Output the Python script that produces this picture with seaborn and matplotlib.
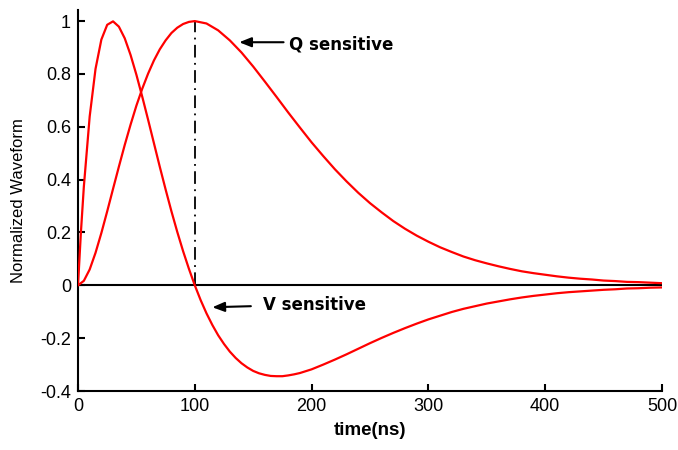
import matplotlib
matplotlib.use("Agg")
import matplotlib.pyplot as plt
import seaborn as sns
import pandas as pd

# ---- data ----
t_q = [0, 5, 10, 15, 20, 25, 30, 35, 40, 45, 50, 55, 60, 65, 70, 75, 80, 85, 90, 95,
       100, 110, 120, 130, 140, 150, 160, 170, 180, 190, 200, 210, 220, 230, 240, 250,
       260, 270, 280, 290, 300, 310, 320, 330, 340, 350, 360, 370, 380, 390, 400,
       410, 420, 430, 440, 450, 460, 470, 480, 490, 500]
q_sensitive = [0.0, 0.017, 0.060, 0.123, 0.198, 0.280, 0.365, 0.449, 0.531, 0.608,
               0.680, 0.744, 0.801, 0.851, 0.893, 0.927, 0.955, 0.975, 0.989, 0.997,
               1.0, 0.991, 0.965, 0.927, 0.881, 0.828, 0.771, 0.713, 0.654, 0.597,
               0.541, 0.489, 0.439, 0.393, 0.350, 0.311, 0.276, 0.243, 0.214, 0.188,
               0.165, 0.144, 0.126, 0.109, 0.095, 0.083, 0.072, 0.062, 0.053, 0.046,
               0.040, 0.034, 0.029, 0.025, 0.022, 0.018, 0.016, 0.013, 0.012, 0.010, 0.008]

t_v = [0, 2.5, 5, 10, 15, 20, 25, 30, 35, 40, 45, 50, 55, 60, 65, 70, 75, 80, 85, 90, 95,
       100, 105, 110, 115, 120, 125, 130, 135, 140, 145, 150, 155, 160, 165, 170, 175,
       180, 185, 190, 195, 200, 210, 220, 230, 240, 250, 260, 270, 280, 290, 300,
       310, 320, 330, 340, 350, 360, 370, 380, 390, 400, 410, 420, 430, 440, 450,
       460, 470, 480, 490, 500]
v_sensitive = [0.0, 0.201, 0.373, 0.639, 0.819, 0.930, 0.986, 0.999, 0.979, 0.935, 0.872,
               0.797, 0.714, 0.627, 0.538, 0.449, 0.363, 0.280, 0.202, 0.129, 0.062,
               0.0, -0.056, -0.106, -0.150, -0.189, -0.222, -0.251, -0.275, -0.295, -0.311,
               -0.324, -0.333, -0.339, -0.343, -0.344, -0.344, -0.341, -0.337, -0.332, -0.325,
               -0.318, -0.300, -0.281, -0.261, -0.240, -0.219, -0.199, -0.180, -0.162, -0.145,
               -0.129, -0.115, -0.101, -0.089, -0.079, -0.069, -0.061, -0.053, -0.046, -0.040,
               -0.035, -0.030, -0.026, -0.023, -0.020, -0.017, -0.015, -0.012, -0.011, -0.009,
               -0.008]

x_ticks = [0, 100, 200, 300, 400, 500]
y_ticks = [-0.4, -0.2, 0, 0.2, 0.4, 0.6, 0.8, 1]
y_tick_labels = ["-0.4", "-0.2", "0", "0.2", "0.4", "0.6", "0.8", "1"]
peak_time = 100

df_q = pd.DataFrame({"t": t_q, "v": q_sensitive})
df_v = pd.DataFrame({"t": t_v, "v": v_sensitive})

sns.set_style("ticks")
plt.rcParams["font.family"] = ["Liberation Sans", "DejaVu Sans"]
plt.rcParams.update({
    "text.color": "black", "axes.labelcolor": "black", "axes.edgecolor": "black",
    "xtick.color": "black", "ytick.color": "black",
})

fig = plt.figure(figsize=(6.78, 4.5), dpi=100)
ax = fig.add_axes([78 / 678, 59 / 450, 584 / 678, 381 / 450])

sns.lineplot(data=df_q, x="t", y="v", color="red", lw=1.6, ax=ax,
             estimator=None, sort=False, zorder=3)
sns.lineplot(data=df_v, x="t", y="v", color="red", lw=1.6, ax=ax,
             estimator=None, sort=False, zorder=3)

ax.axhline(0, color="black", lw=1.5, zorder=2)
ax.plot([peak_time, peak_time], [0, 1], color="black", lw=1.3,
        linestyle=(0, (7, 3, 1, 3)), zorder=2)

ax.set_xlim(0, 500)
ax.set_ylim(-0.4, 1.042)
ax.set_xticks(x_ticks)
ax.set_xticklabels([str(v) for v in x_ticks])
ax.set_yticks(y_ticks)
ax.set_yticklabels(y_tick_labels)
ax.tick_params(direction="in", length=5, width=1.5, labelsize=13, pad=5)

for side in ["top", "right"]:
    ax.spines[side].set_visible(False)
for side in ["left", "bottom"]:
    ax.spines[side].set_linewidth(1.5)

ax.set_xlabel("time(ns)", fontsize=13.5, fontweight="bold", labelpad=5)
ax.set_ylabel("Normalized Waveform", fontsize=12, labelpad=10)

ap = dict(arrowstyle="-|>,head_length=0.4,head_width=0.16", color="black",
          lw=1.5, mutation_scale=18, shrinkA=0, shrinkB=0)
ax.annotate("", xy=(138, 0.92), xytext=(176, 0.92), arrowprops=ap)
ax.text(181, 0.91, "Q sensitive", fontsize=12, fontweight="bold",
        family="DejaVu Sans", va="center", ha="left")
ax.annotate("", xy=(115, -0.083), xytext=(148, -0.079), arrowprops=ap)
ax.text(158, -0.076, "V sensitive", fontsize=12, fontweight="bold",
        family="DejaVu Sans", va="center", ha="left")

fig.savefig("out.png", dpi=100)
